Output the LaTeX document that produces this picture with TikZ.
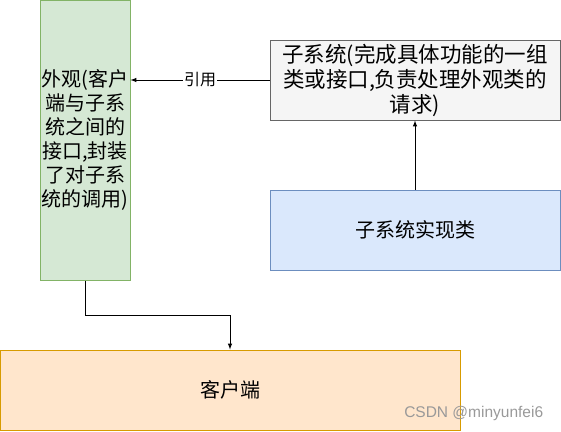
\documentclass[tikz,border=0pt]{standalone}
\usepackage{fontspec}
\setmainfont{Noto Sans CJK SC}
\newfontfamily\markfont{Liberation Sans}
\usetikzlibrary{positioning}
\definecolor{facadefill}{HTML}{D5E8D4}
\definecolor{facadeline}{HTML}{82B366}
\definecolor{subfill}{HTML}{F5F5F5}
\definecolor{subline}{HTML}{666666}
\definecolor{implfill}{HTML}{DAE8FC}
\definecolor{implline}{HTML}{6C8EBF}
\definecolor{clientfill}{HTML}{FFE6CC}
\definecolor{clientline}{HTML}{D79B00}
\begin{document}
\begin{tikzpicture}[x=1pt,y=-1pt,>=latex,line width=1pt,
    box/.style={draw,rectangle,align=center,inner sep=0pt,
        font=\fontsize{20}{24}\selectfont},
    facadebox/.style={box,draw=facadeline,fill=facadefill,
        minimum width=90pt,minimum height=280pt},
    subbox/.style={box,draw=subline,fill=subfill,
        minimum width=290pt,minimum height=80pt,
        font=\fontsize{21.5}{25}\selectfont},
    implbox/.style={box,draw=implline,fill=implfill,
        minimum width=290pt,minimum height=80pt},
    clientbox/.style={box,draw=clientline,fill=clientfill,
        minimum width=460pt,minimum height=80pt}]
    \useasboundingbox (0,0) rectangle (561,431);
    \node[facadebox] (facade) at (85,140)
        {外观(客户\\端与子系\\统之间的\\接口,封装\\了对子系\\统的调用)};
    \node[subbox] (sub) at (415,80)
        {子系统(完成具体功能的一组\\类或接口,负责处理外观类的\\请求)};
    \node[implbox] (impl) at (415,230) {子系统实现类};
    \node[clientbox] (client) at (230,390) {客户端};
    \node[text=gray!80,font=\markfont\fontsize{15.5}{15.5}\selectfont,anchor=east]
        (mark) at (547,413) {CSDN @minyunfei6};
    \draw[->] (sub.west) -- node[fill=white,inner sep=1pt,
        font=\fontsize{16}{16}\selectfont] (ref) {引用} (sub.west -| facade.east);
    \draw[->] (impl) -- (sub);
    \draw[->] (facade.south) -- ++(0,35) -| (client.north);
\end{tikzpicture}
\end{document}
